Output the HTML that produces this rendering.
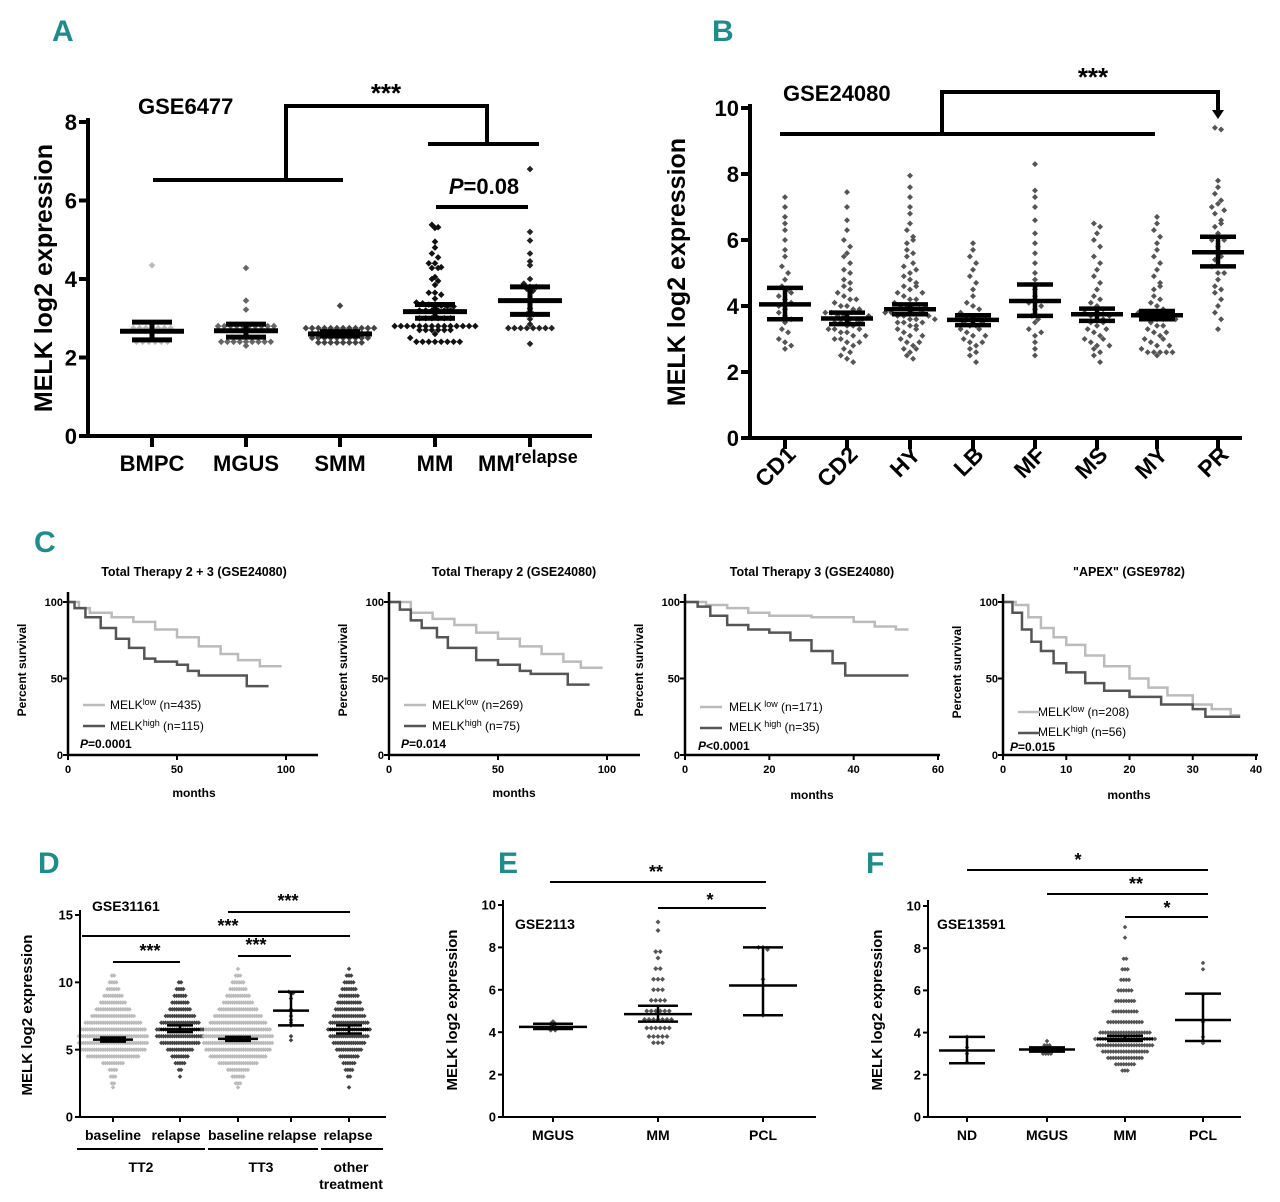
<!DOCTYPE html>
<html><head><meta charset="utf-8"><style>
html,body{margin:0;padding:0;background:#fff}
svg{display:block;font-family:"Liberation Sans",sans-serif;font-weight:bold}
.L{fill:#1f8c8c;font-size:30px}
</style></head><body>
<svg id="fig" width="1280" height="1202" viewBox="0 0 1280 1202" xmlns="http://www.w3.org/2000/svg">
<g>
<text class="L" x="52" y="41">A</text>
<text class="L" x="712" y="41">B</text>
<text class="L" x="34" y="552">C</text>
<text class="L" x="38" y="873">D</text>
<text class="L" x="498" y="873">E</text>
<text class="L" x="866" y="873">F</text>
</g>
<g font-size="22">
<text x="138" y="114">GSE6477</text>
<text transform="translate(52,278) rotate(-90)" text-anchor="middle" font-size="25">MELK log2 expression</text>
<text x="152" y="471" text-anchor="middle">BMPC</text>
<text x="246" y="471" text-anchor="middle">MGUS</text>
<text x="340" y="471" text-anchor="middle">SMM</text>
<text x="435" y="471" text-anchor="middle">MM</text>
<text x="478" y="471">MM<tspan dy="-8" font-size="18">relapse</tspan></text>
<text x="386" y="102" text-anchor="middle" font-size="26">***</text>
<text x="484" y="194" text-anchor="middle"><tspan font-style="italic">P</tspan>=0.08</text>
</g>
<g font-size="22">
<text x="783" y="101">GSE24080</text>
<text transform="translate(685,272) rotate(-90)" text-anchor="middle" font-size="25">MELK log2 expression</text>
<text x="1093" y="86" text-anchor="middle" font-size="26">***</text>
</g>
<g font-size="12.5">
<text x="194" y="576" text-anchor="middle">Total Therapy 2 + 3 (GSE24080)</text>
<text x="514" y="576" text-anchor="middle">Total Therapy 2 (GSE24080)</text>
<text x="812" y="576" text-anchor="middle">Total Therapy 3 (GSE24080)</text>
<text x="1129" y="576" text-anchor="middle">"APEX" (GSE9782)</text>
<g font-size="12">
<text transform="translate(26,670) rotate(-90)" text-anchor="middle">Percent survival</text>
<text transform="translate(347,670) rotate(-90)" text-anchor="middle">Percent survival</text>
<text transform="translate(643,670) rotate(-90)" text-anchor="middle">Percent survival</text>
<text transform="translate(961,672) rotate(-90)" text-anchor="middle">Percent survival</text>
<text x="194" y="797" text-anchor="middle">months</text>
<text x="514" y="797" text-anchor="middle">months</text>
<text x="812" y="799" text-anchor="middle">months</text>
<text x="1129" y="799" text-anchor="middle">months</text>
</g>
<g font-weight="normal" font-size="12">
<text x="110" y="709">MELK<tspan dy="-4" font-size="9">low</tspan><tspan dy="4">  (n=435)</tspan></text>
<text x="110" y="730">MELK<tspan dy="-4" font-size="9">high</tspan><tspan dy="4"> (n=115)</tspan></text>
<text x="432" y="709">MELK<tspan dy="-4" font-size="9">low</tspan><tspan dy="4">  (n=269)</tspan></text>
<text x="432" y="730">MELK<tspan dy="-4" font-size="9">high</tspan><tspan dy="4"> (n=75)</tspan></text>
<text x="729" y="711">MELK<tspan dy="-4" font-size="9"> low</tspan><tspan dy="4">  (n=171)</tspan></text>
<text x="729" y="731">MELK<tspan dy="-4" font-size="9"> high</tspan><tspan dy="4"> (n=35)</tspan></text>
<text x="1038" y="716">MELK<tspan dy="-4" font-size="9">low</tspan><tspan dy="4">  (n=208)</tspan></text>
<text x="1038" y="736">MELK<tspan dy="-4" font-size="9">high</tspan><tspan dy="4">  (n=56)</tspan></text>
</g>
<text x="80" y="748" font-size="12"><tspan font-style="italic">P</tspan>=0.0001</text>
<text x="401" y="748" font-size="12"><tspan font-style="italic">P</tspan>=0.014</text>
<text x="698" y="750" font-size="12"><tspan font-style="italic">P</tspan>&lt;0.0001</text>
<text x="1010" y="751" font-size="12"><tspan font-style="italic">P</tspan>=0.015</text>
</g>
<g font-size="14">
<text x="92" y="911">GSE31161</text>
<text transform="translate(32,1015) rotate(-90)" text-anchor="middle" font-size="15">MELK log2 expression</text>
<text x="113" y="1140" text-anchor="middle">baseline</text>
<text x="176" y="1140" text-anchor="middle">relapse</text>
<text x="236" y="1140" text-anchor="middle">baseline</text>
<text x="292" y="1140" text-anchor="middle">relapse</text>
<text x="348" y="1140" text-anchor="middle">relapse</text>
<text x="141" y="1172" text-anchor="middle">TT2</text>
<text x="261" y="1172" text-anchor="middle">TT3</text>
<text x="351" y="1172" text-anchor="middle">other</text>
<text x="351" y="1189" text-anchor="middle">treatment</text>
<text x="288" y="907" text-anchor="middle" font-size="18">***</text>
<text x="228" y="932" text-anchor="middle" font-size="18">***</text>
<text x="256" y="951" text-anchor="middle" font-size="18">***</text>
<text x="150" y="957" text-anchor="middle" font-size="18">***</text>
<text x="515" y="929">GSE2113</text>
<text transform="translate(457,1010) rotate(-90)" text-anchor="middle" font-size="15">MELK log2 expression</text>
<text x="553" y="1140" text-anchor="middle">MGUS</text>
<text x="658" y="1140" text-anchor="middle">MM</text>
<text x="763" y="1140" text-anchor="middle">PCL</text>
<text x="656" y="878" text-anchor="middle" font-size="18">**</text>
<text x="710" y="906" text-anchor="middle" font-size="18">*</text>
<text x="937" y="929">GSE13591</text>
<text transform="translate(882,1010) rotate(-90)" text-anchor="middle" font-size="15">MELK log2 expression</text>
<text x="967" y="1140" text-anchor="middle">ND</text>
<text x="1047" y="1140" text-anchor="middle">MGUS</text>
<text x="1125" y="1140" text-anchor="middle">MM</text>
<text x="1203" y="1140" text-anchor="middle">PCL</text>
<text x="1078" y="866" text-anchor="middle" font-size="18">*</text>
<text x="1136" y="890" text-anchor="middle" font-size="18">**</text>
<text x="1167" y="914" text-anchor="middle" font-size="18">*</text>
</g>
<g id="marks"></g>
</svg>
<script>
const aCats = ["BMPC","MGUS","SMM","MM","MMrelapse"];
const aBMPC = [4.35,2.75,2.75,2.75,2.75,2.75,2.75,2.75,2.4,2.4,2.4,2.4,2.4,2.4];
const aMGUS = [4.28,3.45,3.22,2.8,2.8,2.8,2.8,2.8,2.8,2.8,2.8,2.8,2.8,2.4,2.4,2.4,2.4,2.4,2.4,2.4,2.4,2.4,2.3];
const aSMM = [3.32,2.75,2.75,2.75,2.75,2.75,2.75,2.75,2.75,2.75,2.75,2.75,2.75,2.62,2.62,2.62,2.62,2.62,2.62,2.62,2.62,2.62,2.62,2.5,2.5,2.5,2.5,2.5,2.5,2.5,2.5,2.5,2.5,2.38,2.38,2.38,2.38,2.38,2.38,2.38,2.38];
const aMM = [5.38,5.32,5.3,4.95,4.8,4.65,4.55,4.4,4.4,4.3,4.28,4.28,4.05,4.0,3.95,3.85,3.65,3.65,3.6,3.5,3.4,3.38,3.35,3.35,3.32,3.3,3.3,3.2,3.2,3.2,3.2,3.2,3.2,3.0,3.0,3.0,3.0,3.0,3.0,2.8,2.8,2.8,2.8,2.8,2.8,2.8,2.8,2.8,2.8,2.8,2.8,2.8,2.8,2.7,2.7,2.7,2.7,2.7,2.7,2.6,2.5,2.4,2.4,2.4,2.4,2.4,2.4,2.4,2.4];
const aMMr = [6.8,5.2,4.98,4.65,4.45,4.35,4.0,3.88,3.8,3.8,3.75,3.7,3.25,3.1,3.1,2.98,2.85,2.75,2.75,2.75,2.75,2.75,2.75,2.75,2.75,2.35];
const aMean = [2.67,2.68,2.6,3.17,3.45];
const aLo = [2.45,2.52,2.55,3.0,3.1];
const aHi = [2.9,2.85,2.66,3.35,3.8];
const aTicks = [0,2,4,6,8];
const bCats = ["CD1","CD2","HY","LB","MF","MS","MY","PR"];
const bCD1 = [7.3,7.0,6.7,6.5,6.3,6.0,5.7,5.5,5.2,5.0,4.8,4.6,4.5,4.3,4.2,4.0,3.9,3.8,3.7,3.5,3.3,3.2,3.0,2.9,2.8,2.7,3.6,4.1,4.4];
const bCD2 = [7.45,7.0,6.6,6.3,6.0,5.8,5.6,5.5,5.3,5.1,5.0,4.8,4.6,4.5,4.4,4.3,4.2,4.1,4.0,4.0,3.9,3.8,3.8,3.7,3.7,3.6,3.6,3.5,3.5,3.4,3.4,3.3,3.3,3.2,3.2,3.1,3.0,3.0,2.9,2.8,2.7,2.6,2.5,2.4,2.3,3.5,3.6,3.7,3.3,3.1,2.9,3.9,4.2,4.7];
const bHY = [7.95,7.6,7.3,7.0,6.8,6.5,6.3,6.1,5.9,5.7,5.5,5.3,5.2,5.0,4.9,4.8,4.7,4.6,4.5,4.4,4.3,4.2,4.1,4.0,4.0,3.9,3.9,3.8,3.8,3.7,3.7,3.6,3.6,3.5,3.5,3.4,3.4,3.3,3.2,3.1,3.0,2.9,2.8,2.7,2.6,2.5,2.4,3.8,3.7,3.6,3.5,3.3,3.1,2.9,2.7,4.0,4.2,4.4,4.6,5.1,5.6,6.0];
const bLB = [5.9,5.7,5.5,5.3,5.1,4.9,4.7,4.5,4.3,4.1,4.0,3.9,3.8,3.7,3.6,3.6,3.5,3.4,3.4,3.3,3.2,3.1,3.0,2.9,2.8,2.7,2.6,2.5,2.3,3.5,3.3,3.1,3.7,2.9];
const bMF = [8.3,7.5,7.3,7.0,6.6,6.2,5.9,5.6,5.3,5.0,4.8,4.5,4.3,4.1,3.9,3.7,3.5,3.3,3.1,2.9,2.7,2.5,4.0,3.6,3.2];
const bMS = [6.5,6.4,6.2,6.0,5.8,5.5,5.3,5.1,4.9,4.7,4.5,4.3,4.2,4.1,4.0,3.9,3.8,3.7,3.6,3.6,3.5,3.4,3.3,3.2,3.1,3.0,2.9,2.8,2.7,2.6,2.5,2.3,3.7,3.5,3.3,3.0,2.8];
const bMY = [6.7,6.5,6.3,6.1,5.9,5.7,5.5,5.3,5.1,4.9,4.7,4.5,4.3,4.1,4.0,3.9,3.8,3.7,3.7,3.6,3.6,3.5,3.4,3.3,3.2,3.1,3.0,2.9,2.8,2.7,2.6,2.6,2.6,2.6,2.6,2.5,3.8,3.6,3.4,3.2,3.0,2.8,4.2,4.6];
const bPR = [9.4,9.35,7.8,7.6,7.4,7.2,7.0,6.8,6.6,6.4,6.2,6.0,5.8,5.6,5.4,5.2,5.0,4.8,4.6,4.4,4.2,4.0,3.8,3.6,3.3,6.5,6.0,5.5,5.0,4.5,7.1,6.9];
const bMean = [4.05,3.62,3.9,3.58,4.15,3.75,3.72,5.63];
const bLo = [3.6,3.45,3.75,3.42,3.7,3.55,3.6,5.2];
const bHi = [4.55,3.8,4.05,3.72,4.65,3.92,3.85,6.1];
const bTicks = [0,2,4,6,8,10];
const km1Low = [[0,100],[5,96],[10,93],[20,90],[30,87],[40,82],[50,77],[60,71],[70,66],[78,62],[88,58],[98,58]];
const km1High = [[0,100],[3,96],[8,90],[15,83],[22,76],[28,70],[35,63],[40,61],[50,59],[55,55],[60,52],[82,52],[82,45],[92,45]];
const km2Low = [[0,100],[10,93],[20,89],[30,85],[40,80],[50,76],[60,71],[70,66],[80,61],[88,57],[98,57]];
const km2High = [[0,100],[5,95],[10,88],[15,83],[22,77],[27,70],[35,70],[40,62],[50,59],[60,55],[65,53],[82,53],[82,46],[92,46]];
const km3Low = [[0,100],[5,98],[10,96],[15,93],[20,91],[30,90],[40,87],[45,84],[50,82],[53,82]];
const km3High = [[0,100],[3,97],[6,91],[10,85],[15,82],[20,80],[25,75],[30,68],[35,60],[38,52],[53,52]];
const km4Low = [[0,100],[2,98],[4,90],[6,83],[8,77],[10,72],[13,65],[16,58],[20,50],[23,44],[26,39],[30,33],[33,30],[36,26],[37.5,26]];
const km4High = [[0,100],[1.5,93],[3,82],[4.5,74],[6,68],[8,60],[10,54],[13,47],[16,42],[20,38],[25,33],[30,30],[32,25],[37.5,25]];
const kmYTicks = [0,50,100];
const km12XTicks = [0,50,100];
const km3XTicks = [0,20,40,60];
const km4XTicks = [0,10,20,30,40];
const dTT2Base = [[10.5,2],[10,4],[9.5,6],[9,9],[8.5,12],[8,16],[7.5,20],[7,26],[6.5,30],[6,32],[5.5,32],[5,30],[4.5,24],[4,10],[3.5,4],[3,3],[2.5,2],[2.2,1]];
const dTT2Rel = [[10,2],[9.5,4],[9,6],[8.5,8],[8,10],[7.5,14],[7,18],[6.5,22],[6,22],[5.5,18],[5,12],[4.5,8],[4,5],[3.5,2],[3,1]];
const dTT3Base = [[11,1],[10.5,3],[10,6],[9.5,8],[9,11],[8.5,14],[8,18],[7.5,22],[7,26],[6.5,30],[6,32],[5.5,32],[5,30],[4.5,26],[4,18],[3.5,10],[3,6],[2.5,3],[2.2,1]];
const dTT3Rel = [[9.3,1],[9.2,2],[8.8,1],[8.0,1],[7.5,1],[7.2,1],[7.0,1],[6.8,1],[6.0,1],[5.7,1]];
const dOther = [[11,1],[10.5,3],[10,5],[9.5,7],[9,9],[8.5,11],[8,13],[7.5,15],[7,18],[6.5,20],[6,18],[5.5,15],[5,12],[4.5,9],[4,6],[3.5,4],[3,2],[2.2,1]];
const dMean = [5.75,6.5,5.8,7.9,6.5];
const dLo = [5.6,6.3,5.65,6.8,6.2];
const dHi = [5.9,6.8,5.95,9.3,6.8];
const dTicks = [0,5,10,15];
const eMGUS = [[4.5,1],[4.4,2],[4.25,2],[4.1,2]];
const eMM = [[9.2,1],[8.8,1],[7.8,2],[7.5,1],[7,2],[6.5,3],[6,3],[5.5,4],[5,6],[4.6,7],[4.2,6],[3.8,5],[3.5,3]];
const ePCL = [[8,2],[7.9,1],[6.5,1],[4.8,1]];
const eMean = [4.25,4.85,6.2];
const eLo = [4.15,4.5,4.8];
const eHi = [4.4,5.25,8.0];
const efTicks = [0,2,4,6,8,10];
const fND = [[3.8,1],[3.3,1],[3.0,1],[2.6,1]];
const fMGUS = [[3.6,1],[3.4,3],[3.2,5],[3.0,4]];
const fMM = [[9,1],[8.5,1],[7.5,2],[7,3],[6.5,4],[6,6],[5.5,8],[5,10],[4.5,14],[4,20],[3.7,24],[3.4,22],[3.1,18],[2.8,14],[2.5,8],[2.2,3]];
const fPCL = [[7.3,1],[7.0,1],[5.8,1],[4.5,1],[3.8,1],[3.6,1],[3.5,1]];
const fMean = [3.15,3.2,3.7,4.6];
const fLo = [2.55,3.1,3.6,3.6];
const fHi = [3.8,3.3,3.85,5.85];

const NS = "http://www.w3.org/2000/svg";
const root = document.getElementById("marks");
function mk(tag, attrs, parent, name) {
  const e = document.createElementNS(NS, tag);
  for (const k in attrs) e.setAttribute(k, attrs[k]);
  
  
  (parent || root).appendChild(e);
  return e;
}
function line(x1,y1,x2,y2,w,name,col){return mk("line",{x1:x1,y1:y1,x2:x2,y2:y2,stroke:col||"#000","stroke-width":w},root,name);}
function expand(p){const o=[];p.forEach(([v,c])=>{for(let i=0;i<c;i++)o.push(v);});return o;}
function linScale(d0,d1,r0,r1){return v=>r0+(v-d0)*(r1-r0)/(d1-d0);}
function yAxis(x,yTop,yBot,ticks,sc,w,tl,fs,name){
  line(x,yTop,x,yBot+w/2,w,name+"-line");
  ticks.forEach(t=>{
    const y=sc(t);
    line(x-tl,y,x,y,w,name+"-tick");
    const tx=mk("text",{x:x-tl-2,y:y+fs*0.36,"text-anchor":"end","font-size":fs},root,name+"-label");
    tx.textContent=t;
  });
}
function swarm(vals,cx,sc,rowPx,dx,r,color,name){
  const buckets={};
  vals.forEach(v=>{const py=sc(v);const k=Math.round(py/rowPx);(buckets[k]=buckets[k]||[]).push(py);});
  const g=mk("g",{fill:color},root,name);
  Object.keys(buckets).forEach(k=>{
    const arr=buckets[k];const n=arr.length;
    arr.forEach((py,i)=>{
      const x=cx+(i-(n-1)/2)*dx;
      mk("path",{d:`M${x},${py-r}L${x+r},${py}L${x},${py+r}L${x-r},${py}Z`},g,"data-point");
    });
  });
}
function errbar(cx,sc,m,lo,hi,mhw,chw,w,name){
  line(cx,sc(lo),cx,sc(hi),w,name+"-sem");
  line(cx-chw,sc(lo),cx+chw,sc(lo),w,name+"-cap-low");
  line(cx-chw,sc(hi),cx+chw,sc(hi),w,name+"-cap-high");
  line(cx-mhw,sc(m),cx+mhw,sc(m),w,name+"-mean");
}

const yA = linScale(0,8,436,122);
const xA = [152,246,340,435,530];
const aData=[aBMPC,aMGUS,aSMM,aMM,aMMr];
const aCol=["#bbb","#666","#444","#111","#222"];
aData.forEach((d,i)=>swarm(d,xA[i],yA,5,6.2,3.3,aCol[i],"a-points-"+aCats[i]));
aData.forEach((d,i)=>errbar(xA[i],yA,aMean[i],aLo[i],aHi[i],32,20,5,"a-errbar-"+aCats[i]));
yAxis(88,118,436,aTicks,yA,4,9,22,"a-y-axis");
line(86,436,592,436,4,"a-x-axis");
xA.forEach(x=>line(x,436,x,447,4,"a-x-tick"));
line(153,180,343,180,4,"a-bracket");line(286,180,286,106,4,"a-bracket");
line(284,106,489,106,4,"a-bracket");line(487,106,487,144,4,"a-bracket");
line(428,144,539,144,4,"a-bracket");line(436,207,528,207,4,"a-bracket-p");

const yB = linScale(0,10,438,108);
const xB = [785,847,910,973,1035,1097,1157,1218];
const bData=[bCD1,bCD2,bHY,bLB,bMF,bMS,bMY,bPR];
bData.forEach((d,i)=>swarm(d,xB[i],yB,9,6.2,3,"#555","b-points-"+bCats[i]));
bData.forEach((d,i)=>errbar(xB[i],yB,bMean[i],bLo[i],bHi[i],26,18,4.5,"b-errbar-"+bCats[i]));
yAxis(750,104,438,bTicks,yB,4,9,22,"b-y-axis");
line(748,438,1242,438,4,"b-x-axis");
xB.forEach((x,i)=>{
  line(x,438,x,449,4,"b-x-tick");
  const t=mk("text",{x:0,y:0,"text-anchor":"end","font-size":23,transform:`translate(${x+12},${456}) rotate(-45)`},root,"b-x-label");
  t.textContent=bCats[i];
});
line(780,134,1155,134,4,"b-bracket");line(942,134,942,92,4,"b-bracket");
line(940,92,1220,92,4,"b-bracket");line(1218,92,1218,112,4,"b-bracket");
mk("path",{d:"M1212,110L1224,110L1218,119Z",fill:"#000"},root,"b-bracket-arrow");

function km(x0,xMax,xEnd,sx1,yTop,low,high,xTicks,name,legY){
  const xs=linScale(0,xMax,x0,sx1);
  const ys=linScale(0,100,755,602);
  [[low,"#bbb"],[high,"#555"]].forEach(([d,c],j)=>{
    let p=`M${xs(d[0][0])},${ys(d[0][1])}`;
    for(let i=1;i<d.length;i++){p+=`H${xs(d[i][0])}V${ys(d[i][1])}`;}
    mk("path",{d:p,fill:"none",stroke:c,"stroke-width":2.5},root,name+(j?"-high-curve":"-low-curve"));
  });
  line(x0,yTop,x0,756,2.5,name+"-y-axis");
  line(x0-1,755,xEnd,755,2.5,name+"-x-axis");
  kmYTicks.forEach(t=>{line(x0-5,ys(t),x0,ys(t),2,name+"-y-tick");
    const tx=mk("text",{x:x0-5,y:ys(t)+4,"text-anchor":"end","font-size":11},root,name+"-y-label");tx.textContent=t;});
  xTicks.forEach(t=>{line(xs(t),755,xs(t),760,2,name+"-x-tick");
    const tx=mk("text",{x:xs(t),y:773,"text-anchor":"middle","font-size":11},root,name+"-x-label");tx.textContent=t;});
  line(x0+15,legY,x0+37,legY,2.5,name+"-legend-low-swatch","#bbb");
  line(x0+15,legY+21,x0+37,legY+21,2.5,name+"-legend-high-swatch","#555");
}
km(68,100,318,286,592,km1Low,km1High,km12XTicks,"km1",705);
km(389,100,640,607,592,km2Low,km2High,km12XTicks,"km2",705);
km(685,60,940,938,594,km3Low,km3High,km3XTicks,"km3",707);
km(1003,40,1258,1256,594,km4Low,km4High,km4XTicks,"km4",712);

const yD = linScale(0,15,1117,915);
const xD = [113,180,238,291,349];
const dData=[dTT2Base,dTT2Rel,dTT3Base,dTT3Rel,dOther];
const dCol=["#bbb","#444","#bbb","#444","#444"];
dData.forEach((d,i)=>swarm(expand(d),xD[i],yD,3,2.2,2.3,dCol[i],"d-points-"+i));
dData.forEach((d,i)=>errbar(xD[i],yD,dMean[i],dLo[i],dHi[i],i==3?18:20,13,2.5,"d-errbar-"+i));
yAxis(80,910,1117,dTicks,yD,2,5,13,"d-y-axis");
line(79,1117,386,1117,2,"d-x-axis");
xD.forEach(x=>line(x,1117,x,1122,2,"d-x-tick"));
line(77,1149,205,1149,2,"d-group-line-tt2");line(208,1149,318,1149,2,"d-group-line-tt3");line(321,1149,383,1149,2,"d-group-line-other");
line(228,912,350,912,2,"d-bracket");line(82,936,350,936,2,"d-bracket");
line(238,956,291,956,2,"d-bracket");line(113,962,180,962,2,"d-bracket");

const yE = linScale(0,10,1117,905);
const xE = [553,658,763];
[eMGUS,eMM,ePCL].forEach((d,i)=>swarm(expand(d),xE[i],yE,4,4.5,2.5,"#555","e-points-"+i));
[0,1,2].forEach(i=>errbar(xE[i],yE,eMean[i],eLo[i],eHi[i],34,20,2.5,"e-errbar-"+i));
yAxis(503,900,1117,efTicks,yE,2,5,13,"e-y-axis");
line(502,1117,816,1117,2,"e-x-axis");
xE.forEach(x=>line(x,1117,x,1122,2,"e-x-tick"));
line(550,882,766,882,2,"e-bracket");line(658,908,766,908,2,"e-bracket");

const yF = linScale(0,10,1117,906);
const xF = [967,1047,1125,1203];
[fND,fMGUS,fMM,fPCL].forEach((d,i)=>swarm(expand(d),xF[i],yF,3,2.6,2.3,"#555","f-points-"+i));
[0,1,2,3].forEach(i=>errbar(xF[i],yF,fMean[i],fLo[i],fHi[i],28,18,2.5,"f-errbar-"+i));
yAxis(928,900,1117,efTicks,yF,2,5,13,"f-y-axis");
line(927,1117,1241,1117,2,"f-x-axis");
xF.forEach(x=>line(x,1117,x,1122,2,"f-x-tick"));
line(967,870,1208,870,2,"f-bracket");line(1047,894,1208,894,2,"f-bracket");line(1125,917,1208,917,2,"f-bracket");
</script>
</body></html>
